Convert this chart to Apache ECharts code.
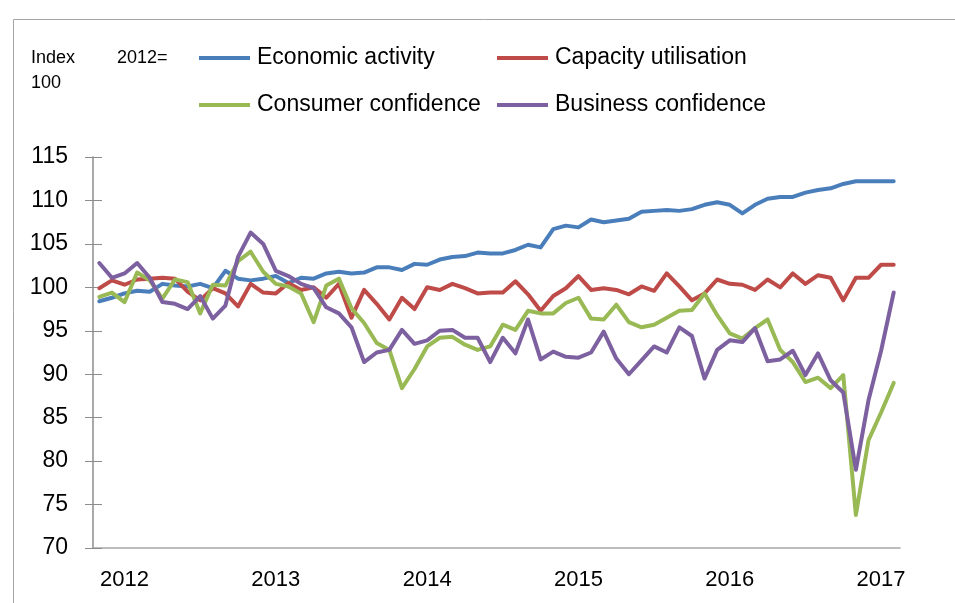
<!DOCTYPE html>
<html>
<head>
<meta charset="utf-8">
<script src="https://cdn.jsdelivr.net/npm/echarts@6/dist/echarts.min.js"></script>
<style>
  html, body { margin: 0; padding: 0; background: #fff; }
  #chart { width: 955px; height: 603px; }
</style>
</head>
<body>
<div id="chart"></div>
<script>
// monthly, Jan 2012 .. Apr 2017
const years = [2012, 2013, 2014, 2015, 2016, 2017]
const months = []
years.forEach(y => {
  for (let m = 1; m <= 12; m++) {
    if (months.length < 64) months.push(y + '-' + String(m).padStart(2, '0'))
  }
})

const economicActivity = [
  98.4, 98.8, 99.3, 99.6, 99.5, 100.4, 100.2, 100.1, 100.4, 99.9,
  101.9, 101.0, 100.8, 101.0, 101.3, 100.5, 101.1, 101.0, 101.6, 101.8,
  101.6, 101.7, 102.3, 102.3, 102.0, 102.7, 102.6, 103.2, 103.5, 103.6,
  104.0, 103.9, 103.9, 104.3, 104.9, 104.6, 106.7, 107.1, 106.9, 107.8,
  107.5, 107.7, 107.9, 108.7, 108.8, 108.9, 108.8, 109.0, 109.5, 109.8,
  109.5, 108.5, 109.5, 110.2, 110.4, 110.4, 110.9, 111.2, 111.4, 111.9,
  112.2, 112.2, 112.2, 112.2
]
const capacityUtilisation = [
  99.9, 100.8, 100.3, 100.9, 101.0, 101.1, 101.0, 99.5, 98.5, 99.9,
  99.3, 97.8, 100.4, 99.4, 99.3, 100.5, 99.7, 100.0, 98.8, 100.4,
  96.5, 99.7, 98.1, 96.3, 98.8, 97.5, 100.0, 99.7, 100.4, 99.9,
  99.3, 99.4, 99.4, 100.7, 99.2, 97.3, 99.0, 99.9, 101.3, 99.7,
  99.9, 99.7, 99.2, 100.1, 99.6, 101.6, 100.1, 98.5, 99.3, 100.9,
  100.4, 100.3, 99.7, 100.9, 100.0, 101.6, 100.4, 101.4, 101.1, 98.5,
  101.1, 101.1, 102.6, 102.6
]
const consumerConfidence = [
  98.9, 99.4, 98.3, 101.7, 100.8, 98.7, 100.9, 100.6, 97.0, 100.3,
  100.2, 103.0, 104.1, 101.8, 100.4, 100.1, 99.3, 96.0, 100.2, 101.0,
  97.6, 95.9, 93.6, 92.8, 88.4, 90.6, 93.2, 94.2, 94.3, 93.4,
  92.8, 93.2, 95.7, 95.1, 97.3, 97.0, 97.0, 98.2, 98.8, 96.4,
  96.3, 98.0, 96.0, 95.4, 95.7, 96.5, 97.3, 97.4, 99.3, 96.8,
  94.7, 94.1, 95.3, 96.3, 92.8, 91.4, 89.1, 89.6, 88.4, 89.9,
  73.8, 82.4, 85.6, 89.0
]
const businessConfidence = [
  102.8, 101.1, 101.6, 102.8, 101.1, 98.3, 98.1, 97.5, 99.0, 96.4,
  97.9, 103.5, 106.3, 105.0, 101.9, 101.3, 100.4, 99.9, 97.7, 97.0,
  95.4, 91.4, 92.5, 92.8, 95.1, 93.5, 93.9, 95.0, 95.1, 94.2,
  94.2, 91.4, 94.2, 92.4, 96.3, 91.7, 92.6, 92.0, 91.9, 92.5,
  94.9, 91.8, 90.0, 91.6, 93.2, 92.5, 95.4, 94.4, 89.5, 92.8,
  93.9, 93.7, 95.3, 91.5, 91.7, 92.7, 89.9, 92.4, 89.3, 87.9,
  79.0, 87.0, 92.7, 99.4
]

const font = '"Liberation Sans", Arial, sans-serif'
const colors = ['#4A7EBB', '#BE4B48', '#98B954', '#7D60A0']
const names = ['Economic activity', 'Capacity utilisation', 'Consumer confidence', 'Business confidence']
const values = [economicActivity, capacityUtilisation, consumerConfidence, businessConfidence]

const legendPos = [[199, 45], [497, 45], [199, 92], [497, 92]]

const chart = echarts.init(document.getElementById('chart'))
chart.setOption({
  animation: false,
  backgroundColor: '#fff',
  color: colors,
  textStyle: { fontFamily: font },
  graphic: [
    { type: 'rect', left: 11, top: 17, shape: { width: 1000, height: 700 },
      style: { fill: 'none', stroke: '#a6a6a6', lineWidth: 1 }, silent: true },
    { type: 'text', left: 31, top: 49, style: { text: 'Index', fontSize: 18, fontFamily: font, fill: '#000' } },
    { type: 'text', left: 117, top: 49, style: { text: '2012=', fontSize: 18, fontFamily: font, fill: '#000' } },
    { type: 'text', left: 31, top: 74, style: { text: '100', fontSize: 18, fontFamily: font, fill: '#000' } }
  ],
  legend: names.map((n, i) => ({
    data: [n],
    left: legendPos[i][0],
    top: legendPos[i][1],
    icon: 'rect',
    itemWidth: 51,
    itemHeight: 4,
    padding: 0,
    textStyle: { fontSize: 23, lineHeight: 26, color: '#000', fontFamily: font, padding: [0, 0, 0, 2] }
  })),
  grid: { left: 93, right: 55, top: 157, bottom: 55 },
  xAxis: {
    type: 'category',
    data: months,
    boundaryGap: true,
    axisLine: { lineStyle: { color: '#a6a6a6', width: 1.5 } },
    axisTick: { inside: true, length: 6, interval: i => i % 12 === 0, lineStyle: { color: '#a6a6a6' } },
    axisLabel: {
      interval: i => i % 12 === 2,
      formatter: v => v.slice(0, 4),
      fontSize: 22, color: '#000', margin: 21, fontFamily: font
    },
    splitLine: { show: false }
  },
  yAxis: [{
    type: 'value',
    min: 70, max: 115, interval: 5,
    axisLine: { show: true, lineStyle: { color: '#8c8c8c', width: 1.5 } },
    axisTick: { show: true, length: 8, lineStyle: { color: '#8c8c8c' } },
    axisLabel: { fontSize: 23, color: '#000', margin: 25, fontFamily: font },
    splitLine: { show: false }
  }, {
    type: 'value',
    position: 'left',
    min: 70, max: 115, interval: 5,
    axisLine: { show: false },
    axisTick: { show: true, inside: true, length: 9, lineStyle: { color: '#8c8c8c' } },
    axisLabel: { show: false },
    splitLine: { show: false }
  }],
  series: names.map((n, i) => ({
    name: n,
    type: 'line',
    data: values[i],
    symbol: 'none',
    lineStyle: { width: 4, color: colors[i], join: 'round', cap: 'round' },
    itemStyle: { color: colors[i] }
  }))
})
</script>
</body>
</html>
